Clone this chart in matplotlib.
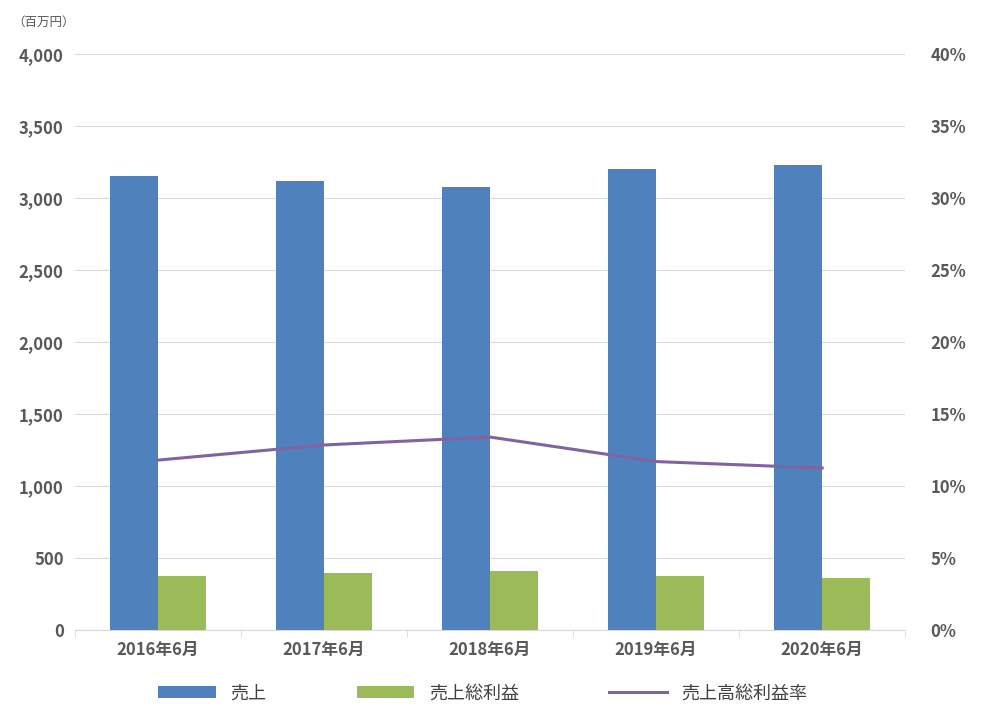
import numpy as np
import matplotlib.pyplot as plt
from matplotlib.ticker import FuncFormatter

plt.rcParams['font.family'] = 'Noto Sans CJK JP'

categories = ['2016年6月', '2017年6月', '2018年6月', '2019年6月', '2020年6月']
sales = [3153, 3118, 3076, 3201, 3229]
gross_profit = [375, 396, 410, 375, 361]
margin = [11.8, 12.85, 13.4, 11.7, 11.25]

fig = plt.figure(figsize=(9.85, 7.26), dpi=100)
ax = fig.add_axes([0.076, 0.132, 0.843, 0.794])
x = np.arange(len(categories))
w = 0.29
ax.bar(x - w / 2, sales, w, color='#4F81BD', label='売上', zorder=3)
ax.bar(x + w / 2, gross_profit, w, color='#9BBB59', label='売上総利益', zorder=3)
ax.set_ylim(0, 4000)
ax.set_xlim(-0.5, len(categories) - 0.5)
ax.set_yticks(range(0, 4001, 500))
ax.yaxis.set_major_formatter(FuncFormatter(lambda v, p: f'{int(v):,}'))
ax.grid(axis='y', color='#d9d9d9', linewidth=0.8, zorder=0)
ax.set_xticks(x)
ax.set_xticklabels(categories)
ax.set_xticks(np.arange(-0.5, len(categories)), minor=True)
ax.tick_params(axis='x', which='major', length=0, pad=8)
ax.tick_params(axis='x', which='minor', length=5, color='#d9d9d9')
ax.tick_params(axis='y', length=0, pad=8)
for s in ['top', 'right', 'left']:
    ax.spines[s].set_visible(False)
ax.spines['bottom'].set_color('#d9d9d9')

ax2 = ax.twinx()
ax2.plot(x, margin, color='#8064A2', linewidth=2.2, label='売上高総利益率', zorder=4)
ax2.set_ylim(0, 40)
ax2.set_yticks(range(0, 41, 5))
ax2.yaxis.set_major_formatter(FuncFormatter(lambda v, p: f'{int(v)}%'))
ax2.tick_params(axis='y', length=0, pad=18)
for s in ['top', 'right', 'left', 'bottom']:
    ax2.spines[s].set_visible(False)

for a in (ax, ax2):
    for lbl in a.get_xticklabels() + a.get_yticklabels():
        lbl.set_color('#595959')
        lbl.set_fontsize(12)
        lbl.set_fontweight('bold')

fig.text(0.012, 0.965, '（百万円）', fontsize=9, color='#595959')

h1, l1 = ax.get_legend_handles_labels()
h2, l2 = ax2.get_legend_handles_labels()
fig.legend(h1 + h2, l1 + l2, loc='center', bbox_to_anchor=(0.49, 0.045), ncol=3,
           frameon=False, fontsize=13, handlelength=3.2, columnspacing=5,
           labelcolor='#404040')

fig.savefig('out.png', dpi=100)
